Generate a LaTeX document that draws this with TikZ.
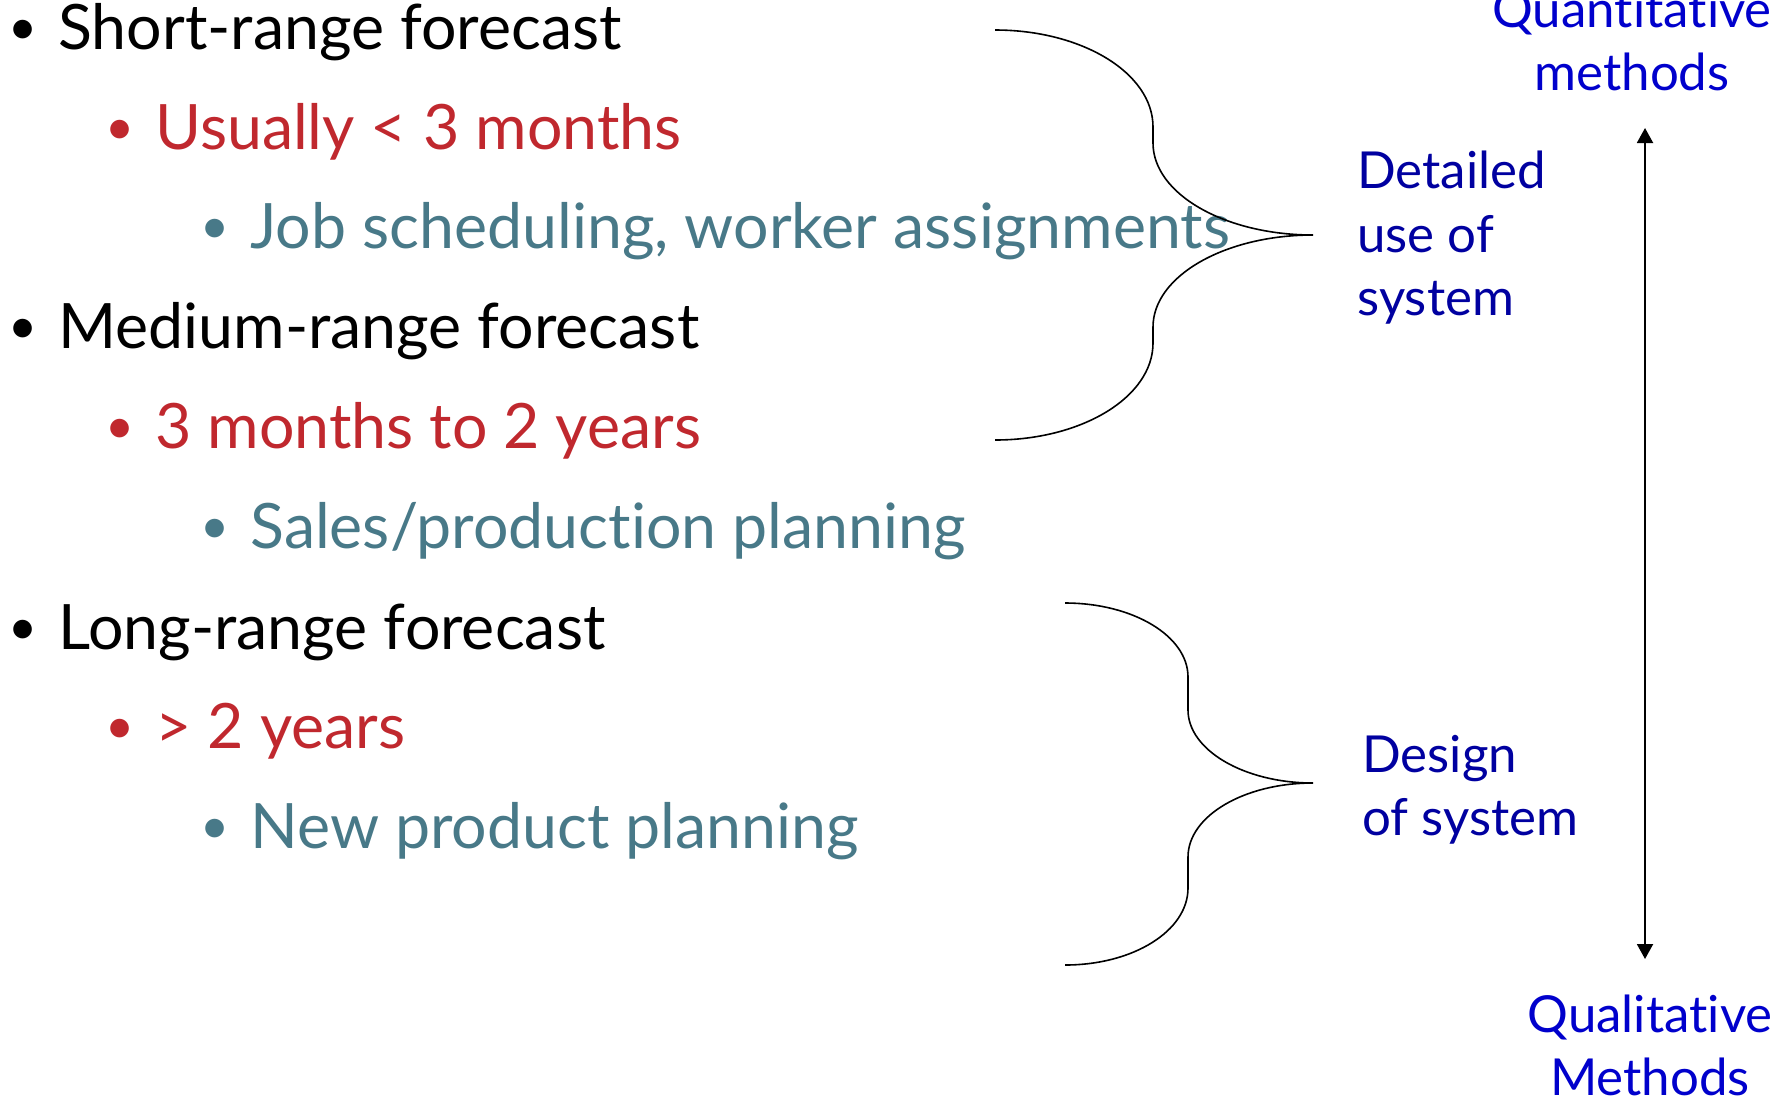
\documentclass[tikz,border=0pt]{standalone}
\usepackage{fontspec}
\setmainfont{Lato}[RawFeature={-liga;-clig;-dlig;-calt}]
\usepackage{xcolor}
\usetikzlibrary{arrows.meta}
\definecolor{rangered}{RGB}{192,40,46}
\definecolor{useteal}{RGB}{72,121,136}
\definecolor{sysblue}{RGB}{0,0,160}
\definecolor{methblue}{RGB}{0,0,204}
\newcommand{\bul}{\llap{\makebox[0pt]{\raisebox{2.2pt}{\scalebox{0.8}{•}}}\hspace{17.5pt}}}

\begin{document}
\begin{tikzpicture}[x=0.5pt,y=-0.5pt,
    every node/.style={inner sep=0pt},
    lvlone/.style={anchor=base west,font=\fontsize{31.3}{38}\selectfont},
    lvltwo/.style={lvlone,text=rangered},
    lvlthree/.style={lvlone,text=useteal},
    systxt/.style={anchor=base west,font=\fontsize{25.5}{30}\selectfont,text=sysblue},
    methtxt/.style={anchor=base,font=\fontsize{25.5}{30}\selectfont,text=methblue},
    brace/.style={line width=0.8pt}]
    \useasboundingbox (0,0) rectangle (1787,1100);

    % forecast ranges
    \node[lvlone] (short) at (58,49) {\bul Short-range forecast};
    \node[lvltwo] (shortt) at (155,149) {\bul Usually < 3 months};
    \node[lvlthree] (shortu) at (250,248) {\bul Job scheduling, worker assignments};
    \node[lvlone] (medium) at (58,348) {\bul Medium-range forecast};
    \node[lvltwo] (mediumt) at (155,448) {\bul 3 months to 2 years};
    \node[lvlthree] (mediumu) at (250,548) {\bul Sales/production planning};
    \node[lvlone] (long) at (58,649) {\bul Long-range forecast};
    \node[lvltwo] (longt) at (155,748) {\bul > 2 years};
    \node[lvlthree] (longu) at (250,848) {\bul New product planning};

    % braces
    \draw[brace] (995,30) .. controls (1082,30) and (1153,73) .. (1153,127)
        -- (1153,143) .. controls (1153,194) and (1225,235) .. (1313,235)
        .. controls (1225,235) and (1153,276) .. (1153,327)
        -- (1153,343) .. controls (1153,397) and (1082,440) .. (995,440);
    \draw[brace] (1065,603) .. controls (1133,603) and (1188,636) .. (1188,677)
        -- (1188,710) .. controls (1188,750) and (1244,783) .. (1313,783)
        .. controls (1244,783) and (1188,816) .. (1188,857)
        -- (1188,888) .. controls (1188,931) and (1133,965) .. (1065,965);

    \node[systxt] (det1) at (1357,188) {Detailed};
    \node[systxt] (det2) at (1357,252) {use of};
    \node[systxt] (det3) at (1357,315) {system};
    \node[systxt] (des1) at (1362,772) {Design};
    \node[systxt] (des2) at (1362,835) {of system};

    % methods scale
    \node[methtxt] (quan1) at (1632,27) {Quantitative};
    \node[methtxt] (quan2) at (1632,90) {methods};
    \node[methtxt] (qual1) at (1650,1032) {Qualitative};
    \node[methtxt] (qual2) at (1650,1095) {Methods};
    \coordinate (qtop) at (1645,128);
    \coordinate (qbot) at (1645,959);
    \draw[line width=1pt,{Triangle[length=7.5pt,width=8pt]}-{Triangle[length=7.5pt,width=8pt]}] (qtop) -- (qbot);
\end{tikzpicture}
\end{document}
